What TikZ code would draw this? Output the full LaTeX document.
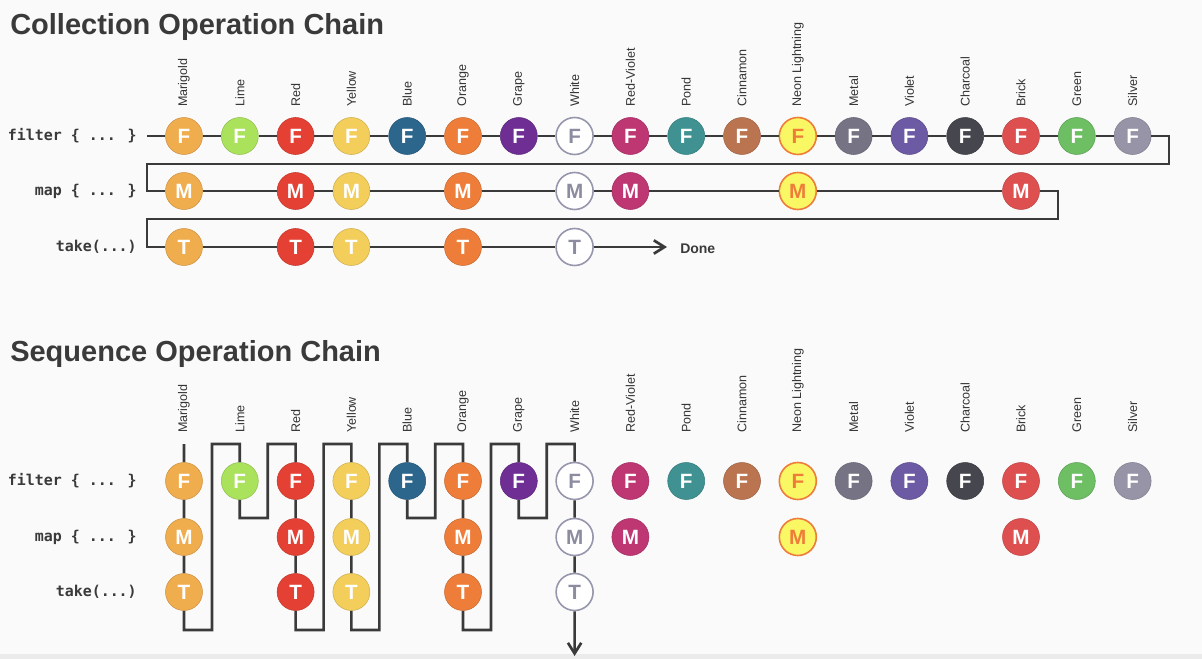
\documentclass[tikz,border=0pt]{standalone}
\usepackage{fontspec}
\setmainfont{Liberation Sans}
\newfontfamily\codefont{DejaVu Sans Mono}
\usetikzlibrary{arrows.meta}

% one colour for each column, left to right
\definecolor{ch1}{RGB}{240,173,78}   % Marigold
\definecolor{ch2}{RGB}{170,226,92}   % Lime
\definecolor{ch3}{RGB}{229,64,52}    % Red
\definecolor{ch4}{RGB}{244,206,90}   % Yellow
\definecolor{ch5}{RGB}{44,102,140}   % Blue
\definecolor{ch6}{RGB}{238,125,58}   % Orange
\definecolor{ch7}{RGB}{110,46,148}   % Grape
\definecolor{ch8}{RGB}{255,255,255}  % White
\definecolor{ch9}{RGB}{190,54,114}   % Red-Violet
\definecolor{ch10}{RGB}{64,146,146}  % Pond
\definecolor{ch11}{RGB}{186,116,80}  % Cinnamon
\definecolor{ch12}{RGB}{250,247,100} % Neon Lightning
\definecolor{ch13}{RGB}{118,116,132} % Metal
\definecolor{ch14}{RGB}{108,90,164}  % Violet
\definecolor{ch15}{RGB}{70,70,78}    % Charcoal
\definecolor{ch16}{RGB}{222,80,80}   % Brick
\definecolor{ch17}{RGB}{110,190,100} % Green
\definecolor{ch18}{RGB}{150,148,166} % Silver
\definecolor{ink}{RGB}{58,58,58}
\definecolor{paper}{RGB}{250,250,250}

\tikzset{
  wire/.style={draw=ink, line width=2pt},
  ball/.style={circle, minimum size=27.75pt, inner sep=0pt, font=\fontsize{15.5}{16}\selectfont\bfseries,
    fill=#1, draw=#1!85!black, line width=0.4pt, text=white, chip #1/.try},
  chip ch8/.style={draw={rgb,255:red,150;green,150;blue,172}, line width=1.2pt, text={rgb,255:red,140;green,140;blue,160}},
  chip ch12/.style={draw=ch6, line width=1.2pt, text=ch6},
  colname/.style={rotate=90, anchor=west, inner sep=0pt, font=\fontsize{9.4}{10}\selectfont, text=ink!90!black},
  oplabel/.style={anchor=east, inner sep=0pt, font=\codefont\fontsize{11.2}{12}\selectfont\bfseries, text=ink},
  heading/.style={anchor=base west, inner sep=0pt, font=\fontsize{21.75}{24}\selectfont\bfseries, text=ink},
  tip/.style={-{Straight Barb[length=8pt,width=10pt]}}
}

\begin{document}
\begin{tikzpicture}[x=0.75pt,y=0.75pt,yscale=-1,xscale=1]
  \useasboundingbox (0,0) rectangle (1202,659);
  \fill[paper] (0,0) rectangle (1202,659);
  \fill[black!8] (0,654) rectangle (1202,659);

  % Titles
  \node[heading] (ctitle) at (10,35) {Collection Operation Chain};
  \node[heading] (stitle) at (10,361) {Sequence Operation Chain};

  % Operation labels
  \node[oplabel] (cfop) at (137,136) {filter \{ ... \}};
  \node[oplabel] (cmop) at (137,191) {map \{ ... \}};
  \node[oplabel] (ctop) at (137,247) {take(...)};
  \node[oplabel] (sfop) at (137,481) {filter \{ ... \}};
  \node[oplabel] (smop) at (137,537) {map \{ ... \}};
  \node[oplabel] (stop) at (137,592) {take(...)};

  % Column names and filter balls
  \foreach \nm [count=\i] in {Marigold,Lime,Red,Yellow,Blue,Orange,Grape,White,Red-Violet,Pond,Cinnamon,Neon Lightning,Metal,Violet,Charcoal,Brick,Green,Silver}{
    \pgfmathsetmacro\cx{184+(\i-1)*55.8}
    \node[colname] (cn\i) at (\cx,107) {\nm};
    \node[colname] (sn\i) at (\cx,433) {\nm};
    \node[ball=ch\i] (cf\i) at (\cx,136) {F};
    \node[ball=ch\i] (sf\i) at (\cx,481) {F};
  }
  % map balls
  \foreach \i in {1,3,4,6,8,9,12,16}{
    \pgfmathsetmacro\cx{184+(\i-1)*55.8}
    \node[ball=ch\i] (cm\i) at (\cx,191) {M};
    \node[ball=ch\i] (sm\i) at (\cx,537) {M};
  }
  % take balls
  \foreach \i in {1,3,4,6,8}{
    \pgfmathsetmacro\cx{184+(\i-1)*55.8}
    \node[ball=ch\i] (ct\i) at (\cx,247) {T};
    \node[ball=ch\i] (st\i) at (\cx,592) {T};
  }

  % Collection: each operation runs over the whole list
  \draw[wire] (147,136) -- (cf1) -- (cf2) -- (cf3) -- (cf4) -- (cf5) -- (cf6) -- (cf7) -- (cf8) -- (cf9)
    -- (cf10) -- (cf11) -- (cf12) -- (cf13) -- (cf14) -- (cf15) -- (cf16) -- (cf17) -- (cf18)
    -- (1169,136) -- (1169,164) -- (147,164) -- (147,191)
    -- (cm1) -- (cm3) -- (cm4) -- (cm6) -- (cm8) -- (cm9) -- (cm12) -- (cm16)
    -- (1058,191) -- (1058,219) -- (147,219) -- (147,247)
    -- (ct1) -- (ct3) -- (ct4) -- (ct6) -- (ct8);
  \node[anchor=west, inner sep=0pt, font=\fontsize{10.5}{11}\selectfont\bfseries, text=ink] (done) at (680,249) {Done};
  \coordinate (doneend) at (667,247);
  \draw[wire, tip] (ct8) -- (doneend);

  % Sequence: each element runs through all operations
  \draw[wire] (184,444) -- (sf1) -- (sm1) -- (st1) -- (184,630) -- (212,630) -- (212,444)
    -- (239.8,444) -- (sf2) -- (239.8,518) -- (267.8,518) -- (267.8,444)
    -- (295.6,444) -- (sf3) -- (sm3) -- (st3) -- (295.6,630) -- (323.6,630) -- (323.6,444)
    -- (351.4,444) -- (sf4) -- (sm4) -- (st4) -- (351.4,630) -- (379.4,630) -- (379.4,444)
    -- (407.2,444) -- (sf5) -- (407.2,518) -- (435.2,518) -- (435.2,444)
    -- (463,444) -- (sf6) -- (sm6) -- (st6) -- (463,630) -- (491,630) -- (491,444)
    -- (518.8,444) -- (sf7) -- (518.8,518) -- (546.8,518) -- (546.8,444)
    -- (574.6,444) -- (sf8) -- (sm8) -- (st8);
  \coordinate (seqend) at (574.6,656);
  \draw[wire, tip] (st8) -- (seqend);
\end{tikzpicture}
\end{document}
